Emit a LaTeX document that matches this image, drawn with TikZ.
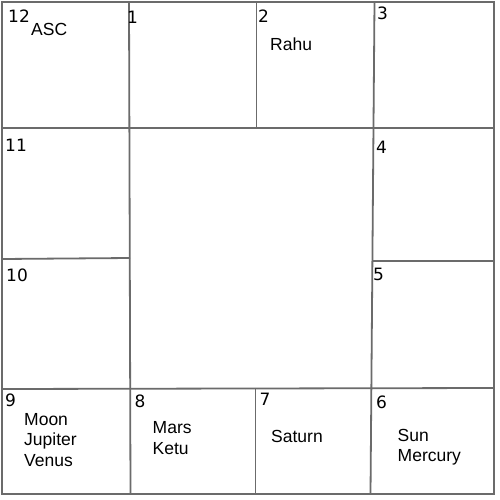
\documentclass[tikz,border=0pt]{standalone}
\usepackage{fontspec}
\setmainfont{Liberation Sans}
\newfontfamily\numfont{DejaVu Sans}
\begin{document}
\begin{tikzpicture}[x=1pt,y=-1pt,
  grid/.style={draw=black!58,line width=1.8pt},
  num/.style={anchor=base west,inner sep=0pt,font=\numfont\fontsize{17}{20}\selectfont},
  planet/.style={anchor=base west,inner sep=0pt,font=\fontsize{17.5}{20.5}\selectfont}]
\useasboundingbox (0,0) rectangle (500,500);
\fill[white] (0,0) rectangle (500,500);
% outer frame
\draw[grid] (2,2) -- (494,2) -- (494,494) -- (2,494) -- cycle;
% horizontal lines
\draw[grid] (2,128) -- (494,128);
\draw[grid] (2,259) -- (130,258);
\draw[grid] (373,261) -- (494,261);
\draw[grid] (2,389) -- (494,388);
% vertical lines
\draw[grid] (129,2) -- (130.5,494);
\draw[grid] (256.5,2) -- (256.5,128);
\draw[grid] (255.5,389) -- (255.5,494);
\draw[grid] (374.5,2) -- (370.5,494);
% sign numbers
\node[num] (n12) at (8,23) {12};
\node[num] (n1) at (127,24) {1};
\node[num] (n2) at (258,23) {2};
\node[num] (n3) at (377,20) {3};
\node[num] (n11) at (5,151) {11};
\node[num] (n4) at (376,153) {4};
\node[num] (n10) at (6,281) {10};
\node[num] (n5) at (373,280.5) {5};
\node[num] (n9) at (5,406.5) {9};
\node[num] (n8) at (134.5,407) {8};
\node[num] (n7) at (259.5,405) {7};
\node[num] (n6) at (376,408) {6};
% planets
\node[planet] (asc) at (31,36) {ASC};
\node[planet] (rahu) at (270,51) {Rahu};
\node[planet] (moon) at (24,425) {Moon};
\node[planet] (jupiter) at (24,445.5) {Jupiter};
\node[planet] (venus) at (24,466) {Venus};
\node[planet] (mars) at (152.5,433) {Mars};
\node[planet] (ketu) at (152.5,454) {Ketu};
\node[planet] (saturn) at (271,442.5) {Saturn};
\node[planet] (sun) at (397.5,441.5) {Sun};
\node[planet] (mercury) at (397.5,461.5) {Mercury};
\end{tikzpicture}
\end{document}
